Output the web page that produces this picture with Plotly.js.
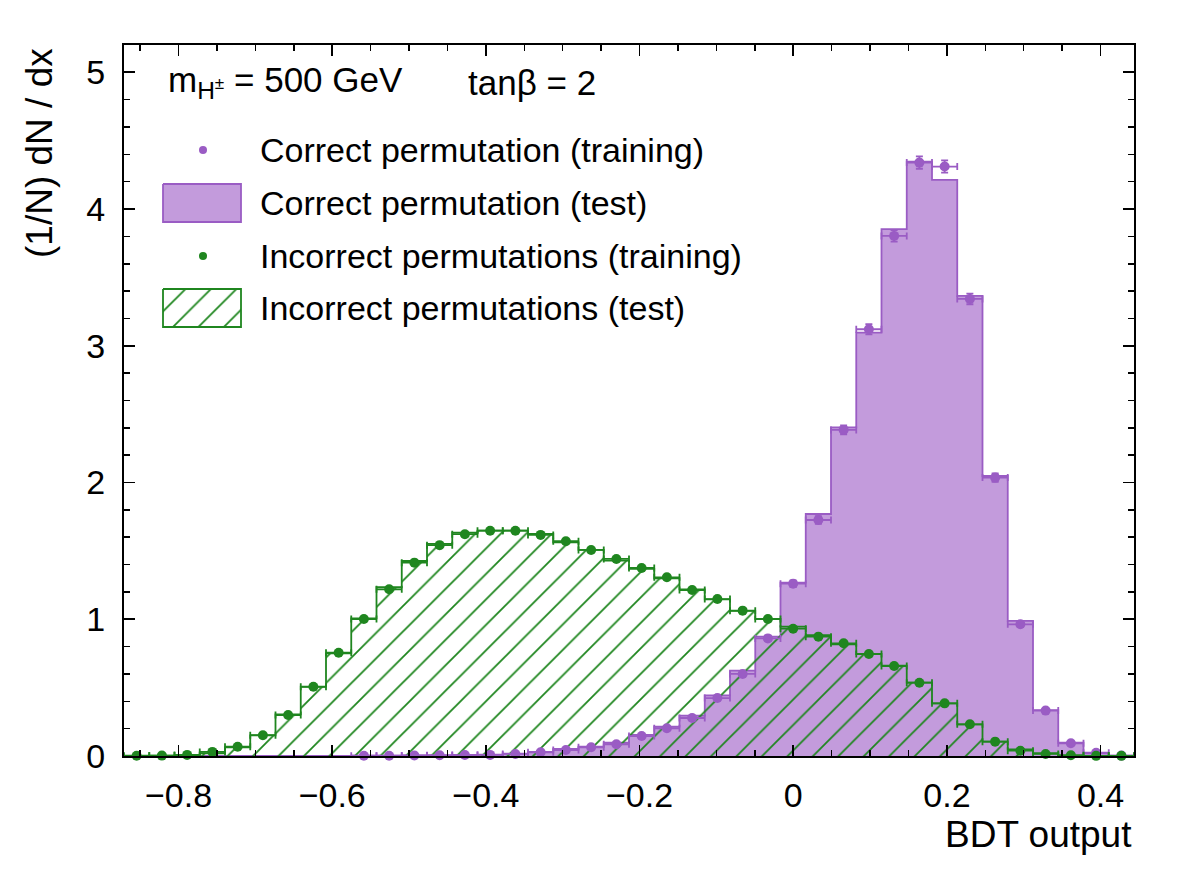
<!DOCTYPE html>
<html>
<head>
<meta charset="utf-8">
<script src="https://cdn.plot.ly/plotly-3.0.1.min.js"></script>
<style>
  html, body { margin: 0; padding: 0; background: #ffffff; }
  #chart { width: 1182px; height: 880px; }
</style>
</head>
<body>
<div id="chart"></div>
<script>
// BDT output binning
const xMin = -0.871;
const xMax = 0.4435;
const nBins = 40;

// (1/N) dN/dx per bin, correct permutation
const correctTrain = [0, 0, 0, 0, 0, 0, 0, 0, 0,
  0.002, 0.002, 0.004, 0.006, 0.007, 0.008, 0.015, 0.027, 0.044, 0.064, 0.086,
  0.146, 0.203, 0.278, 0.424, 0.600, 0.860, 1.260, 1.726, 2.385, 3.121,
  3.804, 4.340, 4.311, 3.343, 2.036, 0.963, 0.332, 0.093, 0.024, 0.003];
const correctTrainErr = [0, 0, 0, 0, 0, 0, 0, 0, 0,
  0.001, 0.001, 0.001, 0.002, 0.002, 0.002, 0.003, 0.004, 0.005, 0.006, 0.007,
  0.009, 0.010, 0.012, 0.014, 0.017, 0.020, 0.024, 0.028, 0.033, 0.038,
  0.042, 0.045, 0.045, 0.039, 0.031, 0.021, 0.012, 0.006, 0.003, 0.001];
const correctTest = [0, 0, 0, 0, 0, 0, 0, 0, 0,
  0.002, 0.003, 0.004, 0.005, 0.008, 0.010, 0.018, 0.030, 0.052, 0.068, 0.097,
  0.154, 0.215, 0.295, 0.444, 0.624, 0.873, 1.268, 1.770, 2.404, 3.097,
  3.853, 4.347, 4.214, 3.365, 2.048, 0.988, 0.336, 0.097, 0.020, 0.003];

// (1/N) dN/dx per bin, incorrect permutations
const incorrectTrain = [0.002, 0.003, 0.008, 0.030, 0.068, 0.152, 0.300, 0.506, 0.755, 1.002,
  1.219, 1.414, 1.542, 1.622, 1.648, 1.648, 1.617, 1.571, 1.507, 1.441,
  1.375, 1.307, 1.214, 1.148, 1.063, 1.002, 0.931, 0.873, 0.824, 0.746,
  0.658, 0.536, 0.385, 0.232, 0.105, 0.039, 0.015, 0.005, 0.001, 0.001];
const incorrectTrainErr = [0.001, 0.001, 0.001, 0.002, 0.003, 0.004, 0.006, 0.007, 0.009, 0.010,
  0.011, 0.012, 0.012, 0.012, 0.013, 0.013, 0.012, 0.012, 0.012, 0.012,
  0.012, 0.011, 0.011, 0.011, 0.010, 0.010, 0.010, 0.009, 0.009, 0.009,
  0.008, 0.007, 0.006, 0.005, 0.003, 0.002, 0.001, 0.001, 0.001, 0.001];
const incorrectTest = [0.001, 0.002, 0.006, 0.020, 0.064, 0.151, 0.305, 0.507, 0.751, 1.007,
  1.234, 1.426, 1.551, 1.634, 1.648, 1.648, 1.625, 1.563, 1.507, 1.429,
  1.368, 1.300, 1.219, 1.146, 1.061, 1.002, 0.946, 0.883, 0.817, 0.746,
  0.660, 0.536, 0.385, 0.232, 0.105, 0.049, 0.020, 0.005, 0.001, 0.000];

const legendLabels = [
  'Correct permutation (training)',
  'Correct permutation (test)',
  'Incorrect permutations (training)',
  'Incorrect permutations (test)'
];
const headerMass = 'm<sub>H<sup>±</sup></sub> = 500 GeV';
const headerTanb = 'tanβ = 2';
const xTitle = 'BDT output';
const yTitle = '(1/N) dN / dx';

// styling
const FONT = 'Liberation Sans, Arial, Helvetica, sans-serif';
const PURPLE = '#9a5cc4';
const PURPLE_FILL = '#c39bdc';
const GREEN = '#1f861f';
const TEXT_SIZE = 34;
const TITLE_SIZE = 37;

// frame geometry (pixels)
const FRAME = { l: 124, r: 1134, t: 45, b: 756 };
const W = FRAME.r - FRAME.l, H = FRAME.b - FRAME.t;
const paperX = px => (px - FRAME.l) / W;
const paperY = py => (FRAME.b - py) / H;

const binW = (xMax - xMin) / nBins;
const edges = Array.from({ length: nBins + 1 }, (_, i) => xMin + i * binW);
const centers = edges.slice(0, -1).map(e => e + binW / 2);

const hatch = { shape: '/', fgcolor: GREEN, bgcolor: 'rgba(0,0,0,0)', size: 18, solidity: 0.1 };

// histogram outline as a step path closed down to the baseline
function stepTrace(vals, extra) {
  const x = [edges[0]], y = [0];
  vals.forEach((v, i) => { x.push(edges[i]); y.push(v); });
  x.push(edges[nBins]); y.push(vals[nBins - 1]);
  x.push(edges[nBins]); y.push(0);
  return Object.assign({
    type: 'scatter', mode: 'lines', x, y,
    fill: 'tozeroy', hoverinfo: 'skip', showlegend: false
  }, extra);
}

// points with errors; empty bins are not drawn
function pointTrace(vals, errs, color) {
  const xs = [], ys = [], es = [];
  vals.forEach((v, i) => {
    if (v > 0) { xs.push(centers[i]); ys.push(v); es.push(errs[i]); }
  });
  return {
    type: 'scatter', mode: 'markers', x: xs, y: ys, showlegend: false,
    cliponaxis: false,
    marker: { color, size: 10, line: { width: 0 } },
    error_x: { type: 'constant', value: binW / 2, color, thickness: 1.8, width: 3.5 },
    error_y: { type: 'data', array: es, color, thickness: 1.8, width: 3.5 }
  };
}

const traces = [
  stepTrace(correctTest, {
    line: { shape: 'hv', color: PURPLE, width: 1.8 },
    fillcolor: PURPLE_FILL
  }),
  stepTrace(incorrectTest, {
    line: { shape: 'hv', color: GREEN, width: 1.8 },
    fillcolor: 'rgba(0,0,0,0)',
    fillpattern: hatch
  }),
  pointTrace(correctTrain, correctTrainErr, PURPLE),
  pointTrace(incorrectTrain, incorrectTrainErr, GREEN)
];

// legend swatches in pixel space (overlay axes x2/y2)
const rowY = [150, 203, 256, 308];
const boxX = [163, 241];
const swatchX = 203;
const textX = 258;
const boxH = 38;
function boxTrace(cy, extra) {
  const y0 = cy - boxH / 2, y1 = cy + boxH / 2;
  return Object.assign({
    type: 'scatter', mode: 'lines', xaxis: 'x2', yaxis: 'y2',
    x: [boxX[0], boxX[1], boxX[1], boxX[0], boxX[0]],
    y: [y0, y0, y1, y1, y0],
    fill: 'toself', hoverinfo: 'skip', showlegend: false
  }, extra);
}
traces.push({
  type: 'scatter', mode: 'markers', xaxis: 'x2', yaxis: 'y2', showlegend: false,
  x: [swatchX], y: [rowY[0]], marker: { color: PURPLE, size: 8 }
});
traces.push(boxTrace(rowY[1], { line: { color: PURPLE, width: 1.8 }, fillcolor: PURPLE_FILL }));
traces.push({
  type: 'scatter', mode: 'markers', xaxis: 'x2', yaxis: 'y2', showlegend: false,
  x: [swatchX], y: [rowY[2]], marker: { color: GREEN, size: 8 }
});
traces.push(boxTrace(rowY[3], {
  line: { color: GREEN, width: 1.8 }, fillcolor: 'rgba(0,0,0,0)', fillpattern: hatch
}));

const TXT = { family: FONT, size: TEXT_SIZE, color: '#000' };
const TTL = { family: FONT, size: TITLE_SIZE, color: '#000' };
const annotations = legendLabels.map((t, i) => ({
  xref: 'paper', yref: 'paper', x: paperX(textX), y: paperY(rowY[i]), text: t,
  xanchor: 'left', yanchor: 'middle', showarrow: false, font: TXT
}));
annotations.push({
  xref: 'paper', yref: 'paper', x: paperX(166), y: paperY(82), text: headerMass,
  xanchor: 'left', yanchor: 'middle', showarrow: false,
  font: { family: FONT, size: 35, color: '#000' }
});
annotations.push({
  xref: 'paper', yref: 'paper', x: paperX(466), y: paperY(82), text: headerTanb,
  xanchor: 'left', yanchor: 'middle', showarrow: false,
  font: { family: FONT, size: 35, color: '#000' }
});
annotations.push({
  xref: 'paper', yref: 'paper', x: paperX(FRAME.r), y: paperY(834), text: xTitle,
  xanchor: 'right', yanchor: 'middle', showarrow: false, font: TTL
});
annotations.push({
  xref: 'paper', yref: 'paper', x: paperX(40), y: paperY(46), text: yTitle, textangle: -90,
  xanchor: 'center', yanchor: 'top', showarrow: false, font: TTL
});

const axisCommon = {
  showgrid: false, zeroline: false, showline: true, linecolor: '#000', linewidth: 2,
  mirror: 'ticks', ticks: 'inside', ticklen: 11, tickwidth: 1.8, tickcolor: '#000',
  tickfont: { family: FONT, size: TEXT_SIZE, color: '#000' }, fixedrange: true
};

const layout = {
  width: 1182, height: 880,
  margin: { l: FRAME.l, r: 1182 - FRAME.r, t: FRAME.t, b: 880 - FRAME.b, pad: 0 },
  paper_bgcolor: '#ffffff', plot_bgcolor: '#ffffff',
  font: { family: FONT, color: '#000' },
  showlegend: false,
  xaxis: Object.assign({}, axisCommon, {
    range: [xMin, xMax], dtick: 0.2, tick0: 0,
    ticklabelstandoff: 8,
    minor: { ticks: 'inside', ticklen: 6, dtick: 0.05, tick0: 0, tickwidth: 1.5, tickcolor: '#000', showgrid: false }
  }),
  yaxis: Object.assign({}, axisCommon, {
    range: [0, 5.2], dtick: 1, tick0: 0,
    ticklabelstandoff: 10,
    minor: { ticks: 'inside', ticklen: 6, dtick: 0.2, tick0: 0, tickwidth: 1.5, tickcolor: '#000', showgrid: false }
  }),
  xaxis2: { overlaying: 'x', range: [FRAME.l, FRAME.r], visible: false, fixedrange: true },
  yaxis2: { overlaying: 'y', range: [FRAME.b, FRAME.t], visible: false, fixedrange: true },
  annotations
};

Plotly.newPlot('chart', traces, layout, { displayModeBar: false, staticPlot: true });
</script>
</body>
</html>
